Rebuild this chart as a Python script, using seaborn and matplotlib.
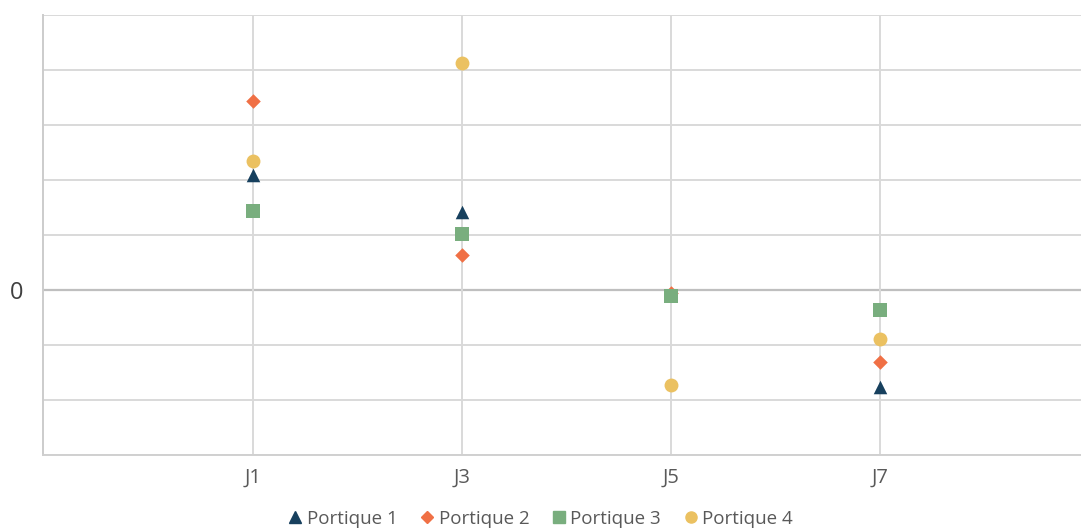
import matplotlib.pyplot as plt
import numpy as np
import pandas as pd
import seaborn as sns

# values (grid unit = 1)
jours = ['J1', 'J3', 'J5', 'J7']
portique1 = [2.09, 1.42, np.nan, -1.76]
portique2 = [3.44, 0.64, -0.05, -1.31]
portique3 = [1.44, 1.02, -0.10, -0.37]
portique4 = [2.35, 4.13, -1.73, -0.89]

series = {'Portique 1': portique1, 'Portique 2': portique2,
          'Portique 3': portique3, 'Portique 4': portique4}
rows = []
for name, vals in series.items():
    for i, (j, v) in enumerate(zip(jours, vals)):
        rows.append({'jour': j, 'pos': i, 'valeur': v, 'serie': name})
df = pd.DataFrame(rows).dropna()

colors = {'Portique 1': '#17405e', 'Portique 2': '#f07045',
          'Portique 3': '#79ae7e', 'Portique 4': '#ebc161'}
markers = {'Portique 1': '^', 'Portique 2': 'D',
           'Portique 3': 's', 'Portique 4': 'o'}
sizes = {'Portique 1': 95, 'Portique 2': 55, 'Portique 3': 90, 'Portique 4': 100}

sns.set_style('white')
plt.rcParams['font.family'] = ['Open Sans', 'DejaVu Sans']

fig = plt.figure(figsize=(10.81, 5.29), dpi=100)
ax = fig.add_axes([43 / 1081, 74 / 529, 1 - 43 / 1081, 440 / 529])

# grid
for y in range(-3, 6):
    ax.axhline(y, color='#bfbfbf' if y == 0 else '#d9d9d9',
               lw=1.6 if y == 0 else 1.4, zorder=0)
for i in range(len(jours)):
    ax.axvline(i, color='#d9d9d9', lw=1.4, zorder=0)

# draw back to front so the square hides the diamond at J5
for name in ['Portique 2', 'Portique 1', 'Portique 4', 'Portique 3']:
    d = df[df['serie'] == name]
    sns.scatterplot(data=d, x='pos', y='valeur', color=colors[name],
                    marker=markers[name], s=sizes[name], linewidth=0,
                    ax=ax, zorder=3, legend=False)

ax.set_xlim(-1.005, 3.96)
ax.set_ylim(-3, 5)
ax.set_xticks(range(len(jours)))
ax.set_xticklabels(jours, fontsize=14.5, color='#595959')
ax.set_yticks([0])
ax.set_yticklabels(['0'], fontsize=17, color='#404040')
ax.tick_params(axis='x', length=0, pad=9)
ax.tick_params(axis='y', length=0, pad=14)
ax.set_xlabel('')
ax.set_ylabel('')
for side in ['top', 'right']:
    ax.spines[side].set_visible(False)
ax.spines['left'].set_color('#cccccc')
ax.spines['left'].set_linewidth(1.4)
ax.spines['bottom'].set_color('#d0d0d0')
ax.spines['bottom'].set_linewidth(1.4)

handles = [plt.Line2D([], [], ls='', marker=markers[n], color=colors[n],
                      markersize=8 if n != 'Portique 2' else 6, label=n)
           for n in series]
fig.legend(handles=handles, loc='center', bbox_to_anchor=(0.5, 10 / 529),
           ncol=4, frameon=False, fontsize=13.5, handlelength=0.8,
           handletextpad=0.2, columnspacing=1.2, labelcolor='#595959')

fig.savefig('out.png', dpi=100)
